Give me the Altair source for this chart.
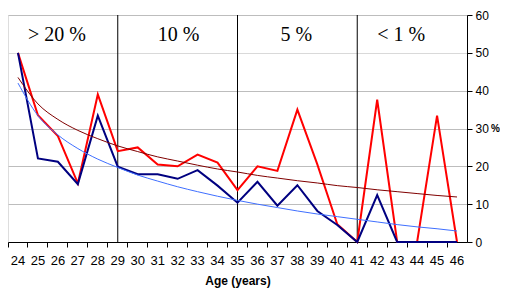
import altair as alt
import pandas as pd

ages = ["24", "25", "26", "27", "28", "29", "30", "31", "32", "33", "34", "35",
        "36", "37", "38", "39", "40", "41", "42", "43", "44", "45", "46"]
red = [50, 33.5, 28, 15.5, 39, 24, 25, 20.5, 20, 23.1, 21.0, 13.7,
       20, 18.8, 35, 20.5, 4.7, 0, 37.6, 0, 0, 33.4, 0]
navy = [50, 22.1, 21.2, 15.3, 33.4, 19.9, 17.9, 17.9, 16.7, 19.0, 14.9, 10.4,
        15.9, 9.6, 15, 8.2, 4.5, 0, 12.4, 0, 0, 0, 0]
red_trend = [43.5, 36.5, 32.4, 29.5, 27.3, 25.4, 23.9, 22.5, 21.4, 20.3, 19.3, 18.5,
             17.6, 16.9, 16.2, 15.6, 14.9, 14.4, 13.8, 13.3, 12.8, 12.3, 11.9]
blue_trend = [42.0, 33.4, 28.3, 24.7, 21.9, 19.7, 17.7, 16.1, 14.6, 13.3, 12.1, 11.0,
              10.0, 9.1, 8.2, 7.4, 6.7, 6.0, 5.3, 4.6, 4.0, 3.5, 2.9]

dividers = ["29", "35", "41"]
band_labels = ["> 20 %", "10 %", "5 %", "< 1 %"]
band_label_at = ["26", "32", "38", "43"]
band_label_dx = [-1, 1, -1, 4]

W, H = 459, 227
HALF = W / len(ages) / 2

df = pd.DataFrame({"age": ages, "red": red, "navy": navy,
                   "red_trend": red_trend, "blue_trend": blue_trend})
lab = pd.DataFrame({"age": band_label_at, "text": band_labels, "dx": band_label_dx})
div = pd.DataFrame({"age": dividers})

xscale = alt.Scale(domain=ages, paddingInner=0, paddingOuter=0)
yscale = alt.Scale(domain=[0, 60], nice=False)

x_axis = alt.Axis(title="Age (years)", labelAngle=0, bandPosition=0,
                  domainColor="black", tickColor="black", tickSize=5,
                  labelFont="Liberation Sans", labelFontSize=13, labelColor="black",
                  labelPadding=7, titleFont="Liberation Sans", titleFontSize=12,
                  titleFontWeight="bold", titleColor="black", titlePadding=8,
                  grid=False)
xenc = alt.X("age:O", scale=xscale, sort=ages, axis=x_axis)

grid_axis = alt.Axis(orient="right", title=None, values=[0, 10, 20, 30, 40, 50, 60],
                     grid=True, labelOverlap=False,
                     gridColor={"condition": {"test": "datum.value === 50", "value": "#d9d9d9"},
                                "value": "#bdbdbd"},
                     domainColor="black", tickColor="black", tickSize=5,
                     labelFont="Liberation Sans", labelFontSize=12, labelColor="black",
                     labelPadding=3)

base = alt.Chart(df)


def line(col, color, width, interp):
    return base.mark_line(color=color, strokeWidth=width, interpolate=interp).encode(
        x=xenc, y=alt.Y(f"{col}:Q", scale=yscale, axis=grid_axis))


red_line = line("red", "#ff0000", 2, "linear")
navy_line = line("navy", "#000080", 2, "linear")
rt_line = line("red_trend", "#800000", 1, "monotone")
bt_line = line("blue_trend", "#3f6fff", 1, "monotone")

rules = alt.Chart(div).mark_rule(color="black", strokeWidth=1).encode(
    x=xenc,
    y=alt.YDatum(0, scale=yscale, axis=grid_axis), y2=alt.datum(60))

texts = alt.Chart(lab).transform_calculate(off=f"datum.dx + {HALF}").mark_text(
    font="Liberation Serif", fontSize=20, color="black",
    baseline="middle", align="center").encode(
    x=xenc,
    y=alt.YDatum(54.6, scale=yscale, axis=grid_axis),
    text="text:N", xOffset=alt.XOffset("off:Q", scale=None))

pct = alt.Chart(pd.DataFrame({"t": ["%"]})).mark_text(
    font="Liberation Sans", fontSize=10, fontWeight="bold", color="black",
    align="left", baseline="middle").encode(
    x=alt.value(W + 24), y=alt.YDatum(30, scale=yscale, axis=grid_axis), text="t:N")

chart = alt.layer(rules, red_line, navy_line, rt_line, bt_line, texts, pct).properties(
    width=W, height=H,
    autosize=alt.AutoSizeParams(type="none"),
    padding={"left": 0, "top": 7, "right": 33, "bottom": 46},
).configure_view(stroke="#404040", strokeWidth=1.5).configure(background="white")

chart.save("out.html", embed_options={"renderer": "svg", "actions": False})
